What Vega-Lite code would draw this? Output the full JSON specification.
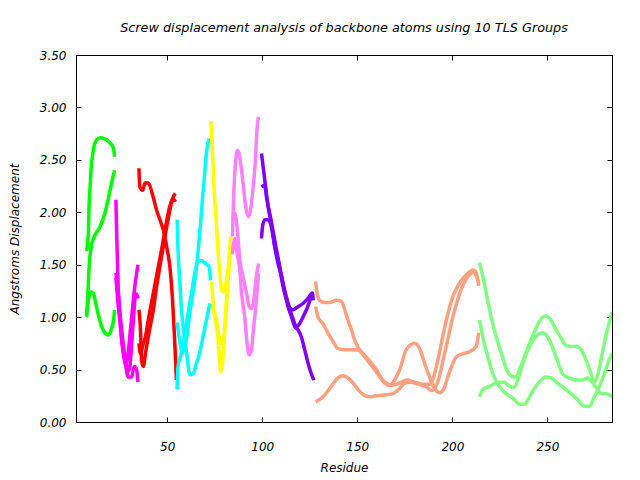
{
  "$schema": "https://vega.github.io/schema/vega-lite/v6.json",
  "width": 536,
  "height": 367,
  "autosize": {"type": "none"},
  "padding": {"left": 76, "top": 55, "right": 28, "bottom": 58},
  "background": "white",
  "title": {"text": "Screw displacement analysis of backbone atoms using 10 TLS Groups", "font": "DejaVu Sans", "fontSize": 12.8, "fontStyle": "italic", "fontWeight": "normal", "color": "black", "anchor": "middle", "offset": 14},
  "config": {
    "view": {"stroke": "black", "strokeWidth": 1},
    "axis": {"labelFont": "DejaVu Sans", "labelFontSize": 12, "labelFontStyle": "italic", "labelColor": "black", "titleFont": "DejaVu Sans", "titleFontSize": 12, "titleFontStyle": "italic", "titleFontWeight": "normal", "titleColor": "black", "grid": false, "domainColor": "black", "tickColor": "black", "tickSize": -5}
  },
  "data": {"values": [
    {"g":"1","c":"1a","r":7.6,"v":1.63},{"g":"1","c":"1a","r":8.5,"v":1.80},{"g":"1","c":"1a","r":8.8,"v":2.02},{"g":"1","c":"1a","r":9.4,"v":2.24},{"g":"1","c":"1a","r":9.9,"v":2.40},{"g":"1","c":"1a","r":11.1,"v":2.59},{"g":"1","c":"1a","r":12.9,"v":2.69},{"g":"1","c":"1a","r":14.6,"v":2.71},{"g":"1","c":"1a","r":17.2,"v":2.70},{"g":"1","c":"1a","r":20.0,"v":2.66},{"g":"1","c":"1a","r":21.7,"v":2.61},{"g":"1","c":"1a","r":22.3,"v":2.53},
    {"g":"1","c":"1b","r":7.6,"v":1.00},{"g":"1","c":"1b","r":8.2,"v":1.20},{"g":"1","c":"1b","r":8.8,"v":1.45},{"g":"1","c":"1b","r":10.0,"v":1.67},{"g":"1","c":"1b","r":11.7,"v":1.77},{"g":"1","c":"1b","r":14.6,"v":1.86},{"g":"1","c":"1b","r":17.2,"v":1.99},{"g":"1","c":"1b","r":18.9,"v":2.12},{"g":"1","c":"1b","r":20.7,"v":2.28},{"g":"1","c":"1b","r":22.3,"v":2.40},
    {"g":"1","c":"1c","r":7.6,"v":1.04},{"g":"1","c":"1c","r":8.5,"v":1.16},{"g":"1","c":"1c","r":9.9,"v":1.24},{"g":"1","c":"1c","r":11.1,"v":1.23},{"g":"1","c":"1c","r":12.4,"v":1.13},{"g":"1","c":"1c","r":13.8,"v":1.02},{"g":"1","c":"1c","r":15.5,"v":0.91},{"g":"1","c":"1c","r":17.2,"v":0.85},{"g":"1","c":"1c","r":19.0,"v":0.83},{"g":"1","c":"1c","r":20.7,"v":0.89},{"g":"1","c":"1c","r":21.9,"v":0.99},{"g":"1","c":"1c","r":22.3,"v":1.07},
    {"g":"2","c":"2a","r":23.0,"v":2.12},{"g":"2","c":"2a","r":23.4,"v":1.80},{"g":"2","c":"2a","r":23.9,"v":1.48},{"g":"2","c":"2a","r":24.2,"v":1.29},{"g":"2","c":"2a","r":25.1,"v":1.00},{"g":"2","c":"2a","r":26.0,"v":0.78},{"g":"2","c":"2a","r":27.7,"v":0.59},{"g":"2","c":"2a","r":29.5,"v":0.43},{"g":"2","c":"2a","r":31.3,"v":0.43},{"g":"2","c":"2a","r":32.6,"v":0.53},{"g":"2","c":"2a","r":33.9,"v":0.50},{"g":"2","c":"2a","r":34.6,"v":0.38},
    {"g":"2","c":"2b","r":23.0,"v":1.42},{"g":"2","c":"2b","r":23.9,"v":1.30},{"g":"2","c":"2b","r":25.1,"v":1.05},{"g":"2","c":"2b","r":26.5,"v":0.80},{"g":"2","c":"2b","r":28.0,"v":0.60},{"g":"2","c":"2b","r":29.5,"v":0.48},{"g":"2","c":"2b","r":30.5,"v":0.55},{"g":"2","c":"2b","r":31.5,"v":0.80},{"g":"2","c":"2b","r":32.5,"v":1.05},{"g":"2","c":"2b","r":33.2,"v":1.20},{"g":"2","c":"2b","r":33.9,"v":1.22},{"g":"2","c":"2b","r":34.6,"v":1.18},
    {"g":"2","c":"2c","r":23.0,"v":1.38},{"g":"2","c":"2c","r":24.0,"v":1.15},{"g":"2","c":"2c","r":25.5,"v":0.90},{"g":"2","c":"2c","r":27.0,"v":0.65},{"g":"2","c":"2c","r":28.0,"v":0.55},{"g":"2","c":"2c","r":29.0,"v":0.60},{"g":"2","c":"2c","r":30.5,"v":0.85},{"g":"2","c":"2c","r":31.8,"v":1.10},{"g":"2","c":"2c","r":33.0,"v":1.30},{"g":"2","c":"2c","r":34.6,"v":1.50},
    {"g":"3","c":"3a","r":35.1,"v":2.42},{"g":"3","c":"3a","r":35.6,"v":2.24},{"g":"3","c":"3a","r":37.1,"v":2.21},{"g":"3","c":"3a","r":38.3,"v":2.28},{"g":"3","c":"3a","r":40.0,"v":2.28},{"g":"3","c":"3a","r":42.1,"v":2.18},{"g":"3","c":"3a","r":44.4,"v":2.02},{"g":"3","c":"3a","r":46.7,"v":1.90},{"g":"3","c":"3a","r":48.4,"v":1.80},{"g":"3","c":"3a","r":49.7,"v":1.67},{"g":"3","c":"3a","r":51.4,"v":1.48},{"g":"3","c":"3a","r":52.8,"v":1.16},{"g":"3","c":"3a","r":53.7,"v":0.85},{"g":"3","c":"3a","r":54.4,"v":0.59},{"g":"3","c":"3a","r":54.8,"v":0.40},
    {"g":"3","c":"3b","r":35.1,"v":1.07},{"g":"3","c":"3b","r":36.0,"v":0.85},{"g":"3","c":"3b","r":36.5,"v":0.59},{"g":"3","c":"3b","r":37.4,"v":0.53},{"g":"3","c":"3b","r":38.6,"v":0.66},{"g":"3","c":"3b","r":40.4,"v":0.85},{"g":"3","c":"3b","r":42.7,"v":1.07},{"g":"3","c":"3b","r":44.4,"v":1.29},{"g":"3","c":"3b","r":46.1,"v":1.48},{"g":"3","c":"3b","r":47.9,"v":1.67},{"g":"3","c":"3b","r":49.7,"v":1.86},{"g":"3","c":"3b","r":51.4,"v":2.02},{"g":"3","c":"3b","r":52.6,"v":2.12},{"g":"3","c":"3b","r":54.3,"v":2.18},
    {"g":"3","c":"3c","r":35.1,"v":0.75},{"g":"3","c":"3c","r":36.0,"v":0.65},{"g":"3","c":"3c","r":37.0,"v":0.72},{"g":"3","c":"3c","r":38.6,"v":0.82},{"g":"3","c":"3c","r":40.0,"v":0.97},{"g":"3","c":"3c","r":42.7,"v":1.23},{"g":"3","c":"3c","r":45.3,"v":1.48},{"g":"3","c":"3c","r":47.3,"v":1.67},{"g":"3","c":"3c","r":49.1,"v":1.86},{"g":"3","c":"3c","r":51.4,"v":2.06},{"g":"3","c":"3c","r":53.0,"v":2.13},{"g":"3","c":"3c","r":54.3,"v":2.10},
    {"g":"4","c":"4a","r":55.2,"v":1.93},{"g":"4","c":"4a","r":55.7,"v":1.64},{"g":"4","c":"4a","r":56.7,"v":1.32},{"g":"4","c":"4a","r":57.5,"v":1.07},{"g":"4","c":"4a","r":58.8,"v":0.85},{"g":"4","c":"4a","r":60.2,"v":0.66},{"g":"4","c":"4a","r":61.9,"v":0.45},{"g":"4","c":"4a","r":63.6,"v":0.46},{"g":"4","c":"4a","r":65.4,"v":0.56},{"g":"4","c":"4a","r":67.1,"v":0.66},{"g":"4","c":"4a","r":68.8,"v":0.81},{"g":"4","c":"4a","r":70.6,"v":0.97},{"g":"4","c":"4a","r":72.4,"v":1.13},
    {"g":"4","c":"4b","r":55.2,"v":0.31},{"g":"4","c":"4b","r":55.7,"v":0.53},{"g":"4","c":"4b","r":57.5,"v":0.66},{"g":"4","c":"4b","r":59.3,"v":0.85},{"g":"4","c":"4b","r":61.0,"v":1.04},{"g":"4","c":"4b","r":62.8,"v":1.23},{"g":"4","c":"4b","r":64.5,"v":1.42},{"g":"4","c":"4b","r":66.2,"v":1.53},{"g":"4","c":"4b","r":68.0,"v":1.54},{"g":"4","c":"4b","r":70.3,"v":1.51},{"g":"4","c":"4b","r":72.0,"v":1.48},{"g":"4","c":"4b","r":72.8,"v":1.35},
    {"g":"4","c":"4c","r":55.2,"v":0.95},{"g":"4","c":"4c","r":56.5,"v":0.78},{"g":"4","c":"4c","r":58.0,"v":0.66},{"g":"4","c":"4c","r":60.2,"v":0.80},{"g":"4","c":"4c","r":61.9,"v":1.04},{"g":"4","c":"4c","r":63.6,"v":1.23},{"g":"4","c":"4c","r":65.4,"v":1.48},{"g":"4","c":"4c","r":67.1,"v":1.80},{"g":"4","c":"4c","r":68.5,"v":2.12},{"g":"4","c":"4c","r":69.7,"v":2.37},{"g":"4","c":"4c","r":70.6,"v":2.56},{"g":"4","c":"4c","r":72.0,"v":2.69},{"g":"4","c":"4c","r":72.5,"v":2.69},
    {"g":"5","c":"5a","r":72.9,"v":2.87},{"g":"5","c":"5a","r":73.8,"v":2.59},{"g":"5","c":"5a","r":74.5,"v":2.28},{"g":"5","c":"5a","r":75.6,"v":1.96},{"g":"5","c":"5a","r":76.7,"v":1.64},{"g":"5","c":"5a","r":77.7,"v":1.42},{"g":"5","c":"5a","r":78.6,"v":1.26},{"g":"5","c":"5a","r":79.4,"v":1.24},{"g":"5","c":"5a","r":81.2,"v":1.35},{"g":"5","c":"5a","r":82.5,"v":1.54},{"g":"5","c":"5a","r":83.3,"v":1.74},{"g":"5","c":"5a","r":83.6,"v":1.77},
    {"g":"5","c":"5b","r":73.3,"v":1.34},{"g":"5","c":"5b","r":74.5,"v":1.07},{"g":"5","c":"5b","r":76.7,"v":0.81},{"g":"5","c":"5b","r":77.7,"v":0.56},{"g":"5","c":"5b","r":78.2,"v":0.48},{"g":"5","c":"5b","r":79.1,"v":0.56},{"g":"5","c":"5b","r":79.8,"v":0.75},{"g":"5","c":"5b","r":80.8,"v":1.00},{"g":"5","c":"5b","r":81.7,"v":1.26},{"g":"5","c":"5b","r":82.5,"v":1.51},{"g":"5","c":"5b","r":83.3,"v":1.70},
    {"g":"5","c":"5c","r":73.3,"v":1.10},{"g":"5","c":"5c","r":74.5,"v":1.07},{"g":"5","c":"5c","r":75.9,"v":0.97},{"g":"5","c":"5c","r":77.3,"v":0.81},{"g":"5","c":"5c","r":78.6,"v":0.75},{"g":"5","c":"5c","r":79.8,"v":0.81},{"g":"5","c":"5c","r":80.8,"v":1.07},{"g":"5","c":"5c","r":81.7,"v":1.30},{"g":"5","c":"5c","r":82.5,"v":1.48},{"g":"5","c":"5c","r":83.3,"v":1.62},
    {"g":"6","c":"6a","r":84.3,"v":1.77},{"g":"6","c":"6a","r":85.0,"v":2.18},{"g":"6","c":"6a","r":86.1,"v":2.50},{"g":"6","c":"6a","r":86.8,"v":2.59},{"g":"6","c":"6a","r":87.8,"v":2.56},{"g":"6","c":"6a","r":89.1,"v":2.40},{"g":"6","c":"6a","r":90.3,"v":2.21},{"g":"6","c":"6a","r":91.3,"v":2.05},{"g":"6","c":"6a","r":92.5,"v":1.96},{"g":"6","c":"6a","r":93.8,"v":2.02},{"g":"6","c":"6a","r":95.2,"v":2.24},{"g":"6","c":"6a","r":96.4,"v":2.50},{"g":"6","c":"6a","r":97.2,"v":2.78},{"g":"6","c":"6a","r":98.0,"v":2.91},
    {"g":"6","c":"6b","r":84.3,"v":1.93},{"g":"6","c":"6b","r":85.6,"v":1.99},{"g":"6","c":"6b","r":86.8,"v":1.85},{"g":"6","c":"6b","r":88.2,"v":1.54},{"g":"6","c":"6b","r":89.9,"v":1.39},{"g":"6","c":"6b","r":91.7,"v":1.23},{"g":"6","c":"6b","r":93.1,"v":1.10},{"g":"6","c":"6b","r":94.3,"v":1.08},{"g":"6","c":"6b","r":95.5,"v":1.16},{"g":"6","c":"6b","r":96.9,"v":1.39},{"g":"6","c":"6b","r":98.1,"v":1.51},
    {"g":"6","c":"6c","r":84.3,"v":1.60},{"g":"6","c":"6c","r":85.6,"v":1.75},{"g":"6","c":"6c","r":86.8,"v":1.60},{"g":"6","c":"6c","r":88.2,"v":1.45},{"g":"6","c":"6c","r":89.1,"v":1.23},{"g":"6","c":"6c","r":90.8,"v":1.00},{"g":"6","c":"6c","r":92.0,"v":0.75},{"g":"6","c":"6c","r":93.1,"v":0.64},{"g":"6","c":"6c","r":94.3,"v":0.69},{"g":"6","c":"6c","r":95.5,"v":0.91},{"g":"6","c":"6c","r":96.9,"v":1.16},{"g":"6","c":"6c","r":98.0,"v":1.42},
    {"g":"7","c":"7a","r":99.6,"v":2.56},{"g":"7","c":"7a","r":101.3,"v":2.31},{"g":"7","c":"7a","r":103.1,"v":2.05},{"g":"7","c":"7a","r":104.8,"v":1.89},{"g":"7","c":"7a","r":106.6,"v":1.67},{"g":"7","c":"7a","r":108.3,"v":1.51},{"g":"7","c":"7a","r":110.1,"v":1.39},{"g":"7","c":"7a","r":111.8,"v":1.23},{"g":"7","c":"7a","r":113.6,"v":1.10},{"g":"7","c":"7a","r":115.4,"v":1.00},{"g":"7","c":"7a","r":117.1,"v":0.91},{"g":"7","c":"7a","r":118.8,"v":0.88},{"g":"7","c":"7a","r":120.6,"v":0.81},{"g":"7","c":"7a","r":122.3,"v":0.69},{"g":"7","c":"7a","r":124.1,"v":0.56},{"g":"7","c":"7a","r":125.8,"v":0.46},{"g":"7","c":"7a","r":127.1,"v":0.40},
    {"g":"7","c":"7b","r":99.6,"v":2.24},{"g":"7","c":"7b","r":101.3,"v":2.26},{"g":"7","c":"7b","r":102.2,"v":2.15},{"g":"7","c":"7b","r":103.9,"v":1.99},{"g":"7","c":"7b","r":105.6,"v":1.83},{"g":"7","c":"7b","r":107.5,"v":1.64},{"g":"7","c":"7b","r":109.2,"v":1.48},{"g":"7","c":"7b","r":111.0,"v":1.32},{"g":"7","c":"7b","r":112.7,"v":1.19},{"g":"7","c":"7b","r":114.1,"v":1.10},{"g":"7","c":"7b","r":116.2,"v":1.07},{"g":"7","c":"7b","r":118.8,"v":1.10},{"g":"7","c":"7b","r":121.4,"v":1.13},{"g":"7","c":"7b","r":124.1,"v":1.18},{"g":"7","c":"7b","r":126.4,"v":1.23},{"g":"7","c":"7b","r":126.8,"v":1.16},
    {"g":"7","c":"7c","r":99.6,"v":1.75},{"g":"7","c":"7c","r":100.1,"v":1.86},{"g":"7","c":"7c","r":101.3,"v":1.93},{"g":"7","c":"7c","r":103.1,"v":1.93},{"g":"7","c":"7c","r":104.8,"v":1.86},{"g":"7","c":"7c","r":106.6,"v":1.67},{"g":"7","c":"7c","r":108.3,"v":1.55},{"g":"7","c":"7c","r":111.0,"v":1.29},{"g":"7","c":"7c","r":113.6,"v":1.13},{"g":"7","c":"7c","r":115.9,"v":1.00},{"g":"7","c":"7c","r":118.0,"v":0.91},{"g":"7","c":"7c","r":119.7,"v":0.94},{"g":"7","c":"7c","r":121.4,"v":1.00},{"g":"7","c":"7c","r":123.5,"v":1.08},{"g":"7","c":"7c","r":125.8,"v":1.19},{"g":"7","c":"7c","r":126.7,"v":1.21},
    {"g":"8","c":"8a","r":128.1,"v":1.34},{"g":"8","c":"8a","r":128.8,"v":1.23},{"g":"8","c":"8a","r":130.2,"v":1.16},{"g":"8","c":"8a","r":132.8,"v":1.14},{"g":"8","c":"8a","r":135.5,"v":1.14},{"g":"8","c":"8a","r":139.0,"v":1.16},{"g":"8","c":"8a","r":141.6,"v":1.15},{"g":"8","c":"8a","r":143.4,"v":1.07},{"g":"8","c":"8a","r":145.1,"v":0.97},{"g":"8","c":"8a","r":146.9,"v":0.88},{"g":"8","c":"8a","r":148.6,"v":0.78},{"g":"8","c":"8a","r":151.2,"v":0.69},{"g":"8","c":"8a","r":153.9,"v":0.62},{"g":"8","c":"8a","r":156.5,"v":0.56},{"g":"8","c":"8a","r":159.1,"v":0.50},{"g":"8","c":"8a","r":161.8,"v":0.43},{"g":"8","c":"8a","r":164.4,"v":0.37},{"g":"8","c":"8a","r":167.0,"v":0.35},{"g":"8","c":"8a","r":169.6,"v":0.40},{"g":"8","c":"8a","r":172.3,"v":0.50},{"g":"8","c":"8a","r":175.8,"v":0.69},{"g":"8","c":"8a","r":180.1,"v":0.75},{"g":"8","c":"8a","r":182.8,"v":0.70},{"g":"8","c":"8a","r":185.4,"v":0.56},{"g":"8","c":"8a","r":188.0,"v":0.43},{"g":"8","c":"8a","r":190.7,"v":0.32},{"g":"8","c":"8a","r":193.3,"v":0.28},{"g":"8","c":"8a","r":195.4,"v":0.31},{"g":"8","c":"8a","r":197.6,"v":0.43},{"g":"8","c":"8a","r":200.3,"v":0.56},{"g":"8","c":"8a","r":202.1,"v":0.62},{"g":"8","c":"8a","r":205.5,"v":0.65},{"g":"8","c":"8a","r":209.0,"v":0.67},{"g":"8","c":"8a","r":212.5,"v":0.72},{"g":"8","c":"8a","r":213.9,"v":0.85},
    {"g":"8","c":"8b","r":128.1,"v":1.10},{"g":"8","c":"8b","r":129.3,"v":1.00},{"g":"8","c":"8b","r":131.9,"v":0.94},{"g":"8","c":"8b","r":134.5,"v":0.85},{"g":"8","c":"8b","r":137.2,"v":0.77},{"g":"8","c":"8b","r":139.8,"v":0.70},{"g":"8","c":"8b","r":143.4,"v":0.69},{"g":"8","c":"8b","r":147.8,"v":0.69},{"g":"8","c":"8b","r":151.2,"v":0.68},{"g":"8","c":"8b","r":154.7,"v":0.62},{"g":"8","c":"8b","r":157.4,"v":0.56},{"g":"8","c":"8b","r":160.0,"v":0.50},{"g":"8","c":"8b","r":162.6,"v":0.42},{"g":"8","c":"8b","r":165.3,"v":0.37},{"g":"8","c":"8b","r":168.0,"v":0.35},{"g":"8","c":"8b","r":172.0,"v":0.37},{"g":"8","c":"8b","r":176.0,"v":0.40},{"g":"8","c":"8b","r":180.0,"v":0.38},{"g":"8","c":"8b","r":184.0,"v":0.36},{"g":"8","c":"8b","r":188.0,"v":0.36},{"g":"8","c":"8b","r":190.0,"v":0.42},{"g":"8","c":"8b","r":192.5,"v":0.60},{"g":"8","c":"8b","r":195.0,"v":0.82},{"g":"8","c":"8b","r":197.5,"v":1.02},{"g":"8","c":"8b","r":200.0,"v":1.18},{"g":"8","c":"8b","r":203.0,"v":1.30},{"g":"8","c":"8b","r":206.0,"v":1.38},{"g":"8","c":"8b","r":209.0,"v":1.43},{"g":"8","c":"8b","r":210.8,"v":1.45},{"g":"8","c":"8b","r":212.5,"v":1.40},{"g":"8","c":"8b","r":213.9,"v":1.33},
    {"g":"8","c":"8c","r":128.1,"v":0.19},{"g":"8","c":"8c","r":131.9,"v":0.24},{"g":"8","c":"8c","r":136.3,"v":0.34},{"g":"8","c":"8c","r":139.8,"v":0.42},{"g":"8","c":"8c","r":142.5,"v":0.44},{"g":"8","c":"8c","r":145.1,"v":0.42},{"g":"8","c":"8c","r":147.8,"v":0.37},{"g":"8","c":"8c","r":150.4,"v":0.31},{"g":"8","c":"8c","r":153.1,"v":0.26},{"g":"8","c":"8c","r":156.5,"v":0.24},{"g":"8","c":"8c","r":160.0,"v":0.25},{"g":"8","c":"8c","r":165.3,"v":0.26},{"g":"8","c":"8c","r":168.8,"v":0.27},{"g":"8","c":"8c","r":172.3,"v":0.32},{"g":"8","c":"8c","r":174.9,"v":0.37},{"g":"8","c":"8c","r":178.0,"v":0.38},{"g":"8","c":"8c","r":182.0,"v":0.36},{"g":"8","c":"8c","r":186.0,"v":0.34},{"g":"8","c":"8c","r":189.0,"v":0.30},{"g":"8","c":"8c","r":191.0,"v":0.33},{"g":"8","c":"8c","r":193.0,"v":0.42},{"g":"8","c":"8c","r":195.0,"v":0.58},{"g":"8","c":"8c","r":197.5,"v":0.78},{"g":"8","c":"8c","r":200.0,"v":0.98},{"g":"8","c":"8c","r":202.5,"v":1.15},{"g":"8","c":"8c","r":205.0,"v":1.28},{"g":"8","c":"8c","r":207.5,"v":1.37},{"g":"8","c":"8c","r":210.0,"v":1.42},{"g":"8","c":"8c","r":212.0,"v":1.44},{"g":"8","c":"8c","r":213.9,"v":1.30},
    {"g":"9","c":"9a","r":214.3,"v":1.52},{"g":"9","c":"9a","r":216.0,"v":1.39},{"g":"9","c":"9a","r":217.8,"v":1.23},{"g":"9","c":"9a","r":220.4,"v":1.00},{"g":"9","c":"9a","r":223.1,"v":0.81},{"g":"9","c":"9a","r":225.7,"v":0.66},{"g":"9","c":"9a","r":228.3,"v":0.51},{"g":"9","c":"9a","r":230.9,"v":0.44},{"g":"9","c":"9a","r":233.6,"v":0.43},{"g":"9","c":"9a","r":235.3,"v":0.50},{"g":"9","c":"9a","r":237.9,"v":0.62},{"g":"9","c":"9a","r":240.6,"v":0.75},{"g":"9","c":"9a","r":243.2,"v":0.86},{"g":"9","c":"9a","r":245.8,"v":0.96},{"g":"9","c":"9a","r":249.0,"v":1.01},{"g":"9","c":"9a","r":252.0,"v":0.97},{"g":"9","c":"9a","r":254.6,"v":0.88},{"g":"9","c":"9a","r":257.2,"v":0.80},{"g":"9","c":"9a","r":259.9,"v":0.73},{"g":"9","c":"9a","r":262.5,"v":0.72},{"g":"9","c":"9a","r":265.1,"v":0.72},{"g":"9","c":"9a","r":267.8,"v":0.69},{"g":"9","c":"9a","r":270.4,"v":0.59},{"g":"9","c":"9a","r":273.0,"v":0.46},{"g":"9","c":"9a","r":274.7,"v":0.38},{"g":"9","c":"9a","r":276.5,"v":0.45},{"g":"9","c":"9a","r":278.5,"v":0.62},{"g":"9","c":"9a","r":280.5,"v":0.80},{"g":"9","c":"9a","r":282.5,"v":0.94},{"g":"9","c":"9a","r":284.0,"v":1.05},
    {"g":"9","c":"9b","r":214.3,"v":0.97},{"g":"9","c":"9b","r":216.0,"v":0.81},{"g":"9","c":"9b","r":218.7,"v":0.62},{"g":"9","c":"9b","r":221.3,"v":0.46},{"g":"9","c":"9b","r":224.8,"v":0.34},{"g":"9","c":"9b","r":228.3,"v":0.27},{"g":"9","c":"9b","r":231.8,"v":0.23},{"g":"9","c":"9b","r":235.3,"v":0.17},{"g":"9","c":"9b","r":237.9,"v":0.17},{"g":"9","c":"9b","r":240.6,"v":0.24},{"g":"9","c":"9b","r":243.2,"v":0.32},{"g":"9","c":"9b","r":245.8,"v":0.38},{"g":"9","c":"9b","r":249.0,"v":0.43},{"g":"9","c":"9b","r":252.0,"v":0.42},{"g":"9","c":"9b","r":255.4,"v":0.37},{"g":"9","c":"9b","r":259.0,"v":0.32},{"g":"9","c":"9b","r":262.5,"v":0.27},{"g":"9","c":"9b","r":266.0,"v":0.21},{"g":"9","c":"9b","r":269.5,"v":0.15},{"g":"9","c":"9b","r":272.1,"v":0.15},{"g":"9","c":"9b","r":274.7,"v":0.24},{"g":"9","c":"9b","r":277.4,"v":0.34},{"g":"9","c":"9b","r":280.0,"v":0.46},{"g":"9","c":"9b","r":282.6,"v":0.60},{"g":"9","c":"9b","r":284.0,"v":0.65},
    {"g":"9","c":"9c","r":214.3,"v":0.24},{"g":"9","c":"9c","r":216.0,"v":0.31},{"g":"9","c":"9c","r":219.6,"v":0.34},{"g":"9","c":"9c","r":223.9,"v":0.38},{"g":"9","c":"9c","r":227.4,"v":0.38},{"g":"9","c":"9c","r":230.1,"v":0.34},{"g":"9","c":"9c","r":232.5,"v":0.33},{"g":"9","c":"9c","r":235.3,"v":0.45},{"g":"9","c":"9c","r":237.9,"v":0.60},{"g":"9","c":"9c","r":240.6,"v":0.72},{"g":"9","c":"9c","r":243.2,"v":0.80},{"g":"9","c":"9c","r":245.8,"v":0.84},{"g":"9","c":"9c","r":247.6,"v":0.85},{"g":"9","c":"9c","r":251.1,"v":0.78},{"g":"9","c":"9c","r":254.6,"v":0.62},{"g":"9","c":"9c","r":258.0,"v":0.46},{"g":"9","c":"9c","r":261.6,"v":0.42},{"g":"9","c":"9c","r":265.1,"v":0.40},{"g":"9","c":"9c","r":268.6,"v":0.40},{"g":"9","c":"9c","r":271.0,"v":0.42},{"g":"9","c":"9c","r":273.5,"v":0.38},{"g":"9","c":"9c","r":276.0,"v":0.32},{"g":"9","c":"9c","r":278.5,"v":0.27},{"g":"9","c":"9c","r":281.0,"v":0.27},{"g":"9","c":"9c","r":284.0,"v":0.24}
  ]},
  "layer": [
    {
      "mark": {"type": "line", "strokeWidth": 3.5, "interpolate": "monotone", "clip": true, "strokeCap": "butt", "strokeJoin": "round"},
      "encoding": {
        "x": {"field": "r", "type": "quantitative", "scale": {"domain": [2, 284], "nice": false, "zero": false}, "axis": {"orient": "bottom", "values": [50, 100, 150, 200, 250], "title": "Residue", "labelPadding": 24, "titleX": 268, "titleY": 45, "titleBaseline": "middle", "titleAlign": "center", "domain": false}},
        "y": {"field": "v", "type": "quantitative", "scale": {"domain": [0, 3.5], "nice": false}, "axis": {"orient": "left", "values": [0, 0.5, 1, 1.5, 2, 2.5, 3, 3.5], "format": ".2f", "title": "Angstroms Displacement", "labelPadding": 15, "titleX": -62, "titleY": 183.5, "titleAngle": -90, "titleBaseline": "middle", "titleAlign": "center", "domain": false}},
        "color": {"field": "g", "type": "nominal", "legend": null, "scale": {"domain": ["1","2","3","4","5","6","7","8","9"], "range": ["#00ff00", "#ff00ff", "#ff0000", "#00ffff", "#ffff00", "#ff80ff", "#8000ff", "#ffa080", "#80ff80"]}},
        "detail": {"field": "c"}
      }
    },
    {
      "mark": {"type": "point", "opacity": 0},
      "encoding": {
        "x": {"field": "r", "type": "quantitative", "axis": {"orient": "top", "values": [50, 100, 150, 200, 250], "labels": false, "title": null, "domain": false}},
        "y": {"field": "v", "type": "quantitative", "axis": {"orient": "right", "values": [0, 0.5, 1, 1.5, 2, 2.5, 3, 3.5], "labels": false, "title": null, "domain": false}}
      }
    }
  ],
  "resolve": {"axis": {"x": "independent", "y": "independent"}}
}
